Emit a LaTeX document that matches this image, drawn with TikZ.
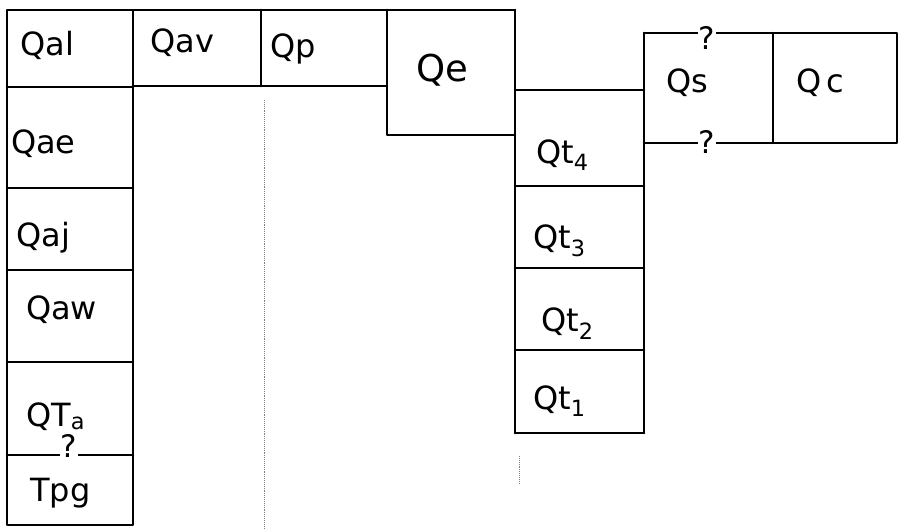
\documentclass[tikz,border=0pt]{standalone}
\usepackage{fontspec}
\setmainfont{DejaVu Sans}
\usetikzlibrary{positioning}

\begin{document}
\begin{tikzpicture}[x=1pt, y=-1pt,
    trait/.style={line width=2.6pt, line cap=round, line join=round},
    pointille/.style={densely dotted, line width=0.9pt, black!50},
    etiq/.style={anchor=base west, inner sep=0pt, font=\fontsize{32}{34}\selectfont},
    grand/.style={etiq, font=\fontsize{37}{39}\selectfont},
    quest/.style={fill=white, inner sep=1pt, font=\fontsize{31}{33}\selectfont}
  ]
    \useasboundingbox (0,0) rectangle (899,530);

    \draw[trait] (7,10) rectangle (133,525);
    \foreach \y in {87,188,270,362,455}
      \draw[trait] (7,\y) -- (133,\y);
    \draw[trait] (133,10) -- (515,10);
    \draw[trait] (133,86) -- (387,86);
    \draw[trait] (261,10) -- (261,86);
    \draw[trait] (387,10) -- (387,135) -- (515,135);
    \draw[trait] (515,10) -- (515,433);
    \draw[trait] (515,90) -- (644,90);
    \foreach \y in {186,268,350,433}
      \draw[trait] (515,\y) -- (644,\y);
    \draw[trait] (644,33) -- (644,433);
    \draw[trait] (644,33) -- (897,33) -- (897,143) -- (644,143);
    \draw[trait] (773,33) -- (773,143);

    \draw[pointille] (264,100) -- (264,528);
    \draw[pointille] (519,456) -- (519,484);

    \node[etiq] (qal) at (20,55) {Qal};
    \node[etiq] (qav) at (150,52) {Qav};
    \node[etiq] (qp) at (270,57) {Qp};
    \node[grand] (qe) at (416,81) {Qe};
    \node[etiq] (qs) at (666,92) {Qs};
    \node[etiq] (qc) at (796,92) {Q\,c};
    \node[etiq] (qtq) at (536,163) {Qt\textsubscript{4}};
    \node[etiq] (qae) at (11,153) {Qae};
    \node[etiq] (qaj) at (16,246) {Qaj};
    \node[etiq] (qaw) at (26,319) {Qaw};
    \node[etiq] (qta) at (26,426) {QT\textsubscript{a}};
    \node[etiq] (tpg) at (30,501) {Tpg};
    \node[etiq] (qtt) at (533,248) {Qt\textsubscript{3}};
    \node[etiq] (qtd) at (541,331) {Qt\textsubscript{2}};
    \node[etiq] (qtu) at (533,409) {Qt\textsubscript{1}};

    \node[quest] (qhaut) at (707,38) {?};
    \node[quest] (qbas) at (707,142) {?};
    \node[quest] (qgauche) at (69,446) {?};
  \end{tikzpicture}
\end{document}
